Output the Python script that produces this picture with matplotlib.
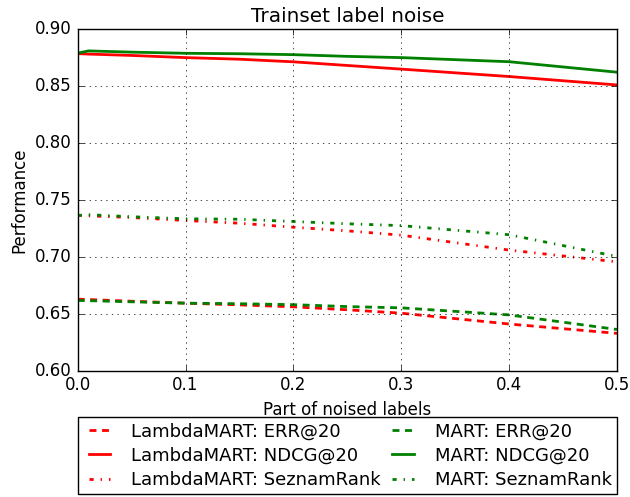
import matplotlib
matplotlib.use('Agg')
import matplotlib.pyplot as plt

plt.style.use('classic')
plt.rcParams['lines.scale_dashes'] = False

noise = [0, 0.01, 0.05, 0.1, 0.15, 0.2, 0.25, 0.3, 0.4, 0.5]

lm_err = [0.6628, 0.6625, 0.6610, 0.6593, 0.6578, 0.6561, 0.6535, 0.6505, 0.6410, 0.6328]
lm_ndcg = [0.8784, 0.8780, 0.8768, 0.8749, 0.8735, 0.8712, 0.8680, 0.8648, 0.8583, 0.8509]
lm_sr = [0.7365, 0.7360, 0.7345, 0.7319, 0.7295, 0.7260, 0.7228, 0.7190, 0.7059, 0.6956]

mart_err = [0.6617, 0.6615, 0.6605, 0.6593, 0.6588, 0.6580, 0.6563, 0.6552, 0.6490, 0.6362]
mart_ndcg = [0.8788, 0.8808, 0.8797, 0.8787, 0.8783, 0.8775, 0.8760, 0.8749, 0.8713, 0.8621]
mart_sr = [0.7363, 0.7370, 0.7352, 0.7334, 0.7330, 0.7310, 0.7290, 0.7274, 0.7194, 0.7003]

fig = plt.figure(figsize=(6.3, 4.97), dpi=100, facecolor='white')
ax = fig.add_axes([0.1233, 0.2541, 0.856, 0.6875])

# legend is filled column by column: LambdaMART first, then MART
ax.plot(noise, lm_err, 'r--', lw=2, dashes=(5, 4), label='LambdaMART: ERR@20')
ax.plot(noise, lm_ndcg, 'r-', lw=2, label='LambdaMART: NDCG@20')
ax.plot(noise, lm_sr, 'r-.', lw=2, label='LambdaMART: SeznamRank')
ax.plot(noise, mart_err, 'g--', lw=2, dashes=(5, 4), label='MART: ERR@20')
ax.plot(noise, mart_ndcg, 'g-', lw=2, label='MART: NDCG@20')
ax.plot(noise, mart_sr, 'g-.', lw=2, label='MART: SeznamRank')

ax.set_xlim(0, 0.5)
ax.set_ylim(0.6, 0.9)
ax.grid(True)
ax.set_title('Trainset label noise')
ax.set_xlabel('Part of noised labels')
ax.set_ylabel('Performance')

ax.legend(ncol=2, loc='upper center', bbox_to_anchor=(0., -0.135, 1., 0.),
          mode='expand', borderaxespad=0., fontsize=13, labelspacing=0.35,
          borderpad=0.3, handlelength=1.8, handletextpad=0.85)

fig.savefig('out.png', dpi=100, facecolor='white')
